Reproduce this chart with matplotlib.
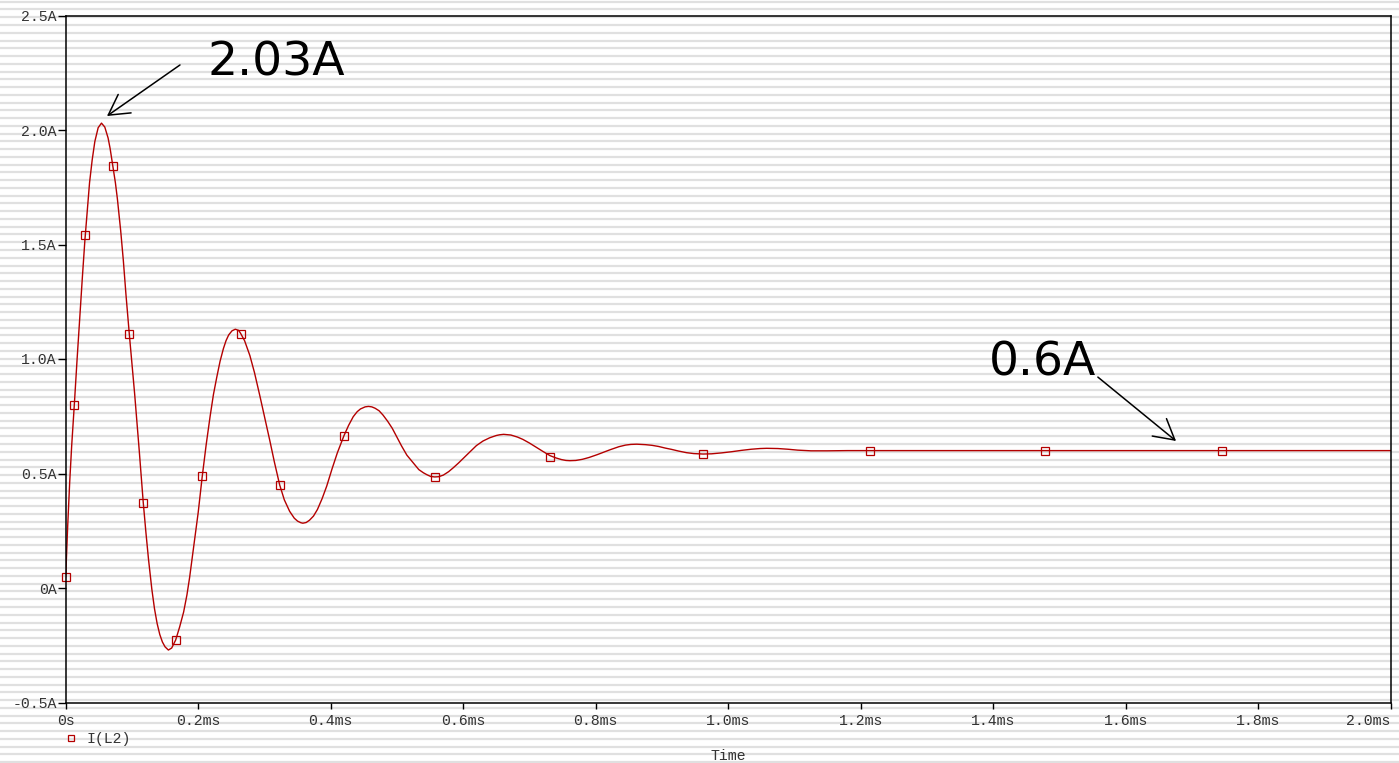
import matplotlib.pyplot as plt
from matplotlib.lines import Line2D
import numpy as np

# readings (time in ms, current in A)
time_ms = [0.000, 0.003, 0.006, 0.009, 0.013, 0.017, 0.021, 0.025, 0.029, 0.033,
           0.036, 0.040, 0.044, 0.049, 0.054, 0.059, 0.064, 0.067, 0.071, 0.075,
           0.078, 0.083, 0.087, 0.091, 0.096, 0.100, 0.104, 0.107, 0.111, 0.117,
           0.121, 0.125, 0.130, 0.134, 0.138, 0.142, 0.146, 0.150, 0.155, 0.160,
           0.166, 0.172, 0.178, 0.183, 0.187, 0.193, 0.200, 0.206, 0.212, 0.218,
           0.223, 0.228, 0.233, 0.238, 0.242, 0.246, 0.251, 0.256, 0.261, 0.264,
           0.270, 0.278, 0.285, 0.293, 0.300, 0.308, 0.315, 0.323, 0.330, 0.338,
           0.345, 0.350, 0.355, 0.358, 0.363, 0.368, 0.374, 0.380, 0.387, 0.394,
           0.402, 0.410, 0.420, 0.427, 0.434, 0.440, 0.445, 0.452, 0.457, 0.462,
           0.467, 0.473, 0.479, 0.486, 0.493, 0.500, 0.507, 0.515, 0.525, 0.533,
           0.540, 0.545, 0.551, 0.557, 0.563, 0.570, 0.578, 0.585, 0.593, 0.600,
           0.610, 0.620, 0.630, 0.640, 0.650, 0.655, 0.661, 0.672, 0.682, 0.690,
           0.700, 0.710, 0.720, 0.731, 0.740, 0.748, 0.755, 0.761, 0.770, 0.780,
           0.790, 0.802, 0.812, 0.822, 0.835, 0.845, 0.853, 0.862, 0.875, 0.885,
           0.895, 0.905, 0.915, 0.925, 0.937, 0.948, 0.962, 0.975, 0.990, 1.005,
           1.020, 1.035, 1.048, 1.058, 1.075, 1.090, 1.105, 1.125, 1.150, 1.180,
           1.214, 1.478, 1.745, 2.000]
current_a = [0.049, 0.270, 0.460, 0.620, 0.800, 0.990, 1.170, 1.350, 1.520, 1.660,
             1.770, 1.870, 1.950, 2.010, 2.030, 2.013, 1.965, 1.920, 1.844, 1.770,
             1.700, 1.560, 1.430, 1.280, 1.109, 0.980, 0.850, 0.745, 0.600, 0.375,
             0.245, 0.125, -0.005, -0.090, -0.155, -0.203, -0.236, -0.257, -0.271, -0.262,
             -0.227, -0.170, -0.105, -0.030, 0.045, 0.175, 0.330, 0.485, 0.625, 0.750,
             0.845, 0.920, 0.990, 1.045, 1.080, 1.105, 1.123, 1.130, 1.125, 1.112,
             1.080, 1.015, 0.940, 0.840, 0.750, 0.645, 0.550, 0.450, 0.385, 0.335,
             0.305, 0.292, 0.285, 0.283, 0.286, 0.296, 0.314, 0.343, 0.390, 0.445,
             0.520, 0.590, 0.665, 0.710, 0.748, 0.770, 0.782, 0.791, 0.793, 0.791,
             0.785, 0.774, 0.755, 0.728, 0.697, 0.658, 0.620, 0.580, 0.545, 0.517,
             0.503, 0.495, 0.487, 0.485, 0.486, 0.493, 0.508, 0.525, 0.546, 0.566,
             0.594, 0.622, 0.642, 0.656, 0.666, 0.669, 0.671, 0.668, 0.659, 0.649,
             0.633, 0.615, 0.597, 0.578, 0.568, 0.561, 0.557, 0.556, 0.557, 0.562,
             0.570, 0.582, 0.593, 0.604, 0.617, 0.624, 0.627, 0.628, 0.626, 0.623,
             0.618, 0.611, 0.605, 0.598, 0.591, 0.587, 0.585, 0.586, 0.590, 0.595,
             0.601, 0.606, 0.609, 0.610, 0.609, 0.606, 0.602, 0.599, 0.599, 0.600,
             0.600, 0.600, 0.600, 0.600]

# the symbols PSpice puts on some of the points
marker_t = [0.000, 0.013, 0.029, 0.071, 0.096, 0.117, 0.166, 0.206, 0.264, 0.323,
            0.420, 0.557, 0.731, 0.962, 1.214, 1.478, 1.745]
marker_i = [0.049, 0.799, 1.541, 1.844, 1.109, 0.370, -0.227, 0.489, 1.109, 0.450,
            0.665, 0.485, 0.573, 0.585, 0.600, 0.600, 0.600]

x_ticks = [0.0, 0.2, 0.4, 0.6, 0.8, 1.0, 1.2, 1.4, 1.6, 1.8, 2.0]
x_labels = ['0s', '0.2ms', '0.4ms', '0.6ms', '0.8ms', '1.0ms',
            '1.2ms', '1.4ms', '1.6ms', '1.8ms', '2.0ms']
y_ticks = [-0.5, 0.0, 0.5, 1.0, 1.5, 2.0, 2.5]
y_labels = ['-0.5A', '0A', '0.5A', '1.0A', '1.5A', '2.0A', '2.5A']

RED = '#b40000'
MONO = 'Liberation Mono'
TXT = '#333333'
W, H = 1399, 763

fig = plt.figure(figsize=(W / 100, H / 100), dpi=100)
fig.patch.set_facecolor('white')

# grey scan stripes behind everything
bg = fig.add_axes([0, 0, 1, 1], zorder=-1)
bg.set_xlim(0, W)
bg.set_ylim(H, 0)
for yy in np.arange(1.7, H, 7.76):
    bg.axhline(yy, color='#e0e0e0', lw=1.6)
bg.axis('off')

ax = fig.add_axes([65.7 / W, 60.5 / H, 1325 / W, 687 / H])
ax.set_facecolor('none')
ax.plot(time_ms, current_a, color=RED, lw=1.0)
ax.plot(marker_t, marker_i, ls='none', marker='s', ms=5.2, mfc='none',
        mec=RED, mew=0.9, clip_on=False)

ax.set_xlim(0, 2.0)
ax.set_ylim(-0.5, 2.5)
ax.set_xticks(x_ticks)
ax.set_xticklabels(x_labels, fontfamily=MONO, fontsize=10.7, color=TXT)
ax.set_yticks(y_ticks)
ax.set_yticklabels(y_labels, fontfamily=MONO, fontsize=10.7, color=TXT)
ax.get_xticklabels()[-1].set_horizontalalignment('right')
ax.tick_params(axis='y', direction='out', length=6, width=1, pad=0.5)
ax.tick_params(axis='x', direction='out', length=4.3, width=1, pad=4)
for sp in ax.spines.values():
    sp.set_linewidth(1.1)
    sp.set_color('black')

ax.set_xlabel('Time', fontfamily=MONO, fontsize=10.7, color=TXT, labelpad=15)

# annotations
arrow = dict(arrowstyle='->, head_length=0.8, head_width=0.45', color='black',
             lw=1.1, shrinkA=0, shrinkB=0, mutation_scale=18)
ax.annotate('', xy=(0.0623, 2.061), xytext=(0.1725, 2.284), arrowprops=arrow)
ax.text(0.2133, 2.236, '2.03A', fontsize=34, ha='left', va='baseline')
ax.annotate('', xy=(1.676, 0.642), xytext=(1.558, 0.921), arrowprops=arrow)
ax.text(1.3936, 0.927, '0.6A', fontsize=34, ha='left', va='baseline')

handle = Line2D([], [], ls='none', marker='s', ms=5, mfc='none', mec=RED, mew=0.9)
ax.legend([handle], ['I(L2)'], loc='center left',
          bbox_to_anchor=(63.9 / W, 24 / H), bbox_transform=fig.transFigure,
          frameon=False, handlelength=1.0, handletextpad=0.5, borderpad=0,
          borderaxespad=0, prop={'family': MONO, 'size': 10.7})
for t in ax.get_legend().get_texts():
    t.set_color(TXT)

fig.savefig('out.png', dpi=100)
